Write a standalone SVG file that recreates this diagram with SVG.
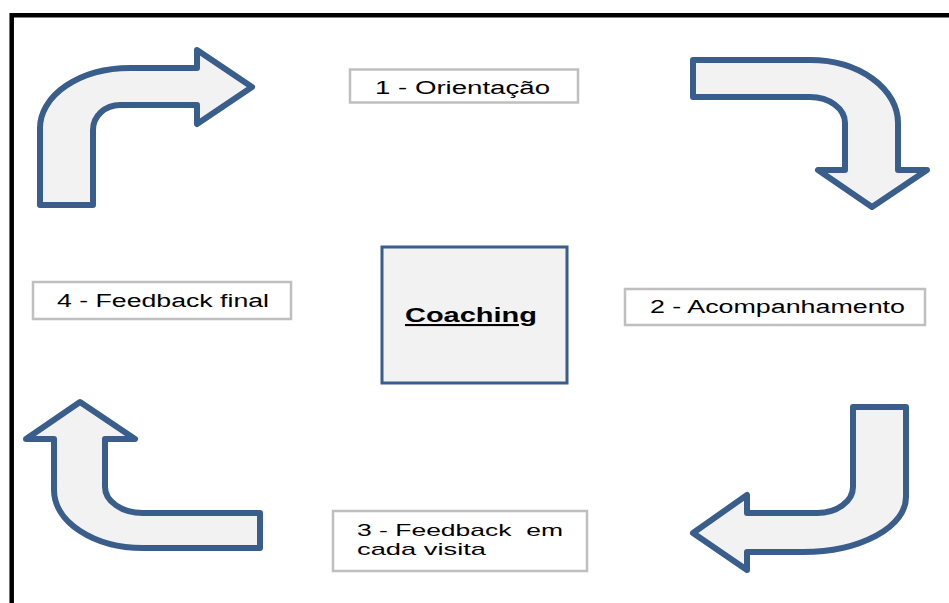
<svg xmlns="http://www.w3.org/2000/svg" width="949" height="603" viewBox="0 0 949 603">
  <style>
    .arrow { fill: #F2F2F2; stroke: #3A5E8C; stroke-width: 6; stroke-linejoin: round; }
    .box { fill: #FFFFFF; stroke: #BFBFBF; stroke-width: 2.5; }
    .lbl { font-family: "Liberation Sans", Arial, sans-serif; font-size: 18px; fill: #000000; }
    .lbl2 { font-family: "Liberation Sans", Arial, sans-serif; font-size: 17px; fill: #000000; }
    .center { fill: #F2F2F2; stroke: #3A5E8C; stroke-width: 3; }
    .ctext { font-family: "Liberation Sans", Arial, sans-serif; font-size: 21px; font-weight: bold; fill: #000000; text-decoration: underline; }
  </style>
  <rect x="0" y="0" width="949" height="603" fill="#FFFFFF"/>
  <path d="M11.7,603 L11.7,15.3 L949,15.3" fill="none" stroke="#000000" stroke-width="4.5"/>

  <g id="connectors">
    <path class="arrow" d="M40,205 L40,128 A90,60 0 0 1 130,68 L197,68 L197,50 L252,87 L197,124 L197,105 L120,105 A27,25 0 0 0 93,130 L93,205 Z"/>
    <path class="arrow" d="M693,60 L810,60 A88,63 0 0 1 898,123 L898,170 L927,170 L872,207 L818,170 L845,170 L845,123 A35,26 0 0 0 810,97 L693,97 Z"/>
    <path class="arrow" d="M853,407 L906,407 L906,497 A103,55 0 0 1 803,552 L747,552 L747,570 L693,533 L747,495 L747,513 L817,513 A36,26 0 0 0 853,487 Z"/>
    <path class="arrow" d="M80,402 L135,439 L105,439 L105,487 A38,26 0 0 0 143,513 L260,513 L260,548 L143,548 A89,58 0 0 1 54,490 L54,439 L26,439 Z"/>
  </g>

  <g id="node-coaching">
    <rect class="center" x="382" y="247" width="185" height="136"/>
    <text class="ctext" x="405" y="322" textLength="132" lengthAdjust="spacingAndGlyphs">Coaching</text>
  </g>

  <g id="node-orientacao">
    <rect class="box" x="350" y="69.5" width="228" height="33"/>
    <text class="lbl" x="375" y="94" textLength="175" lengthAdjust="spacingAndGlyphs">1 - Orientação</text>
  </g>

  <g id="node-acompanhamento">
    <rect class="box" x="625" y="289" width="300" height="36"/>
    <text class="lbl" x="650" y="313" textLength="255" lengthAdjust="spacingAndGlyphs">2 - Acompanhamento</text>
  </g>

  <g id="node-feedback-visita">
    <rect class="box" x="333" y="511" width="254" height="60"/>
    <text class="lbl2" x="357" y="535.5" textLength="206" lengthAdjust="spacingAndGlyphs" xml:space="preserve">3 - Feedback  em</text>
    <text class="lbl2" x="357" y="555" textLength="129" lengthAdjust="spacingAndGlyphs">cada visita</text>
  </g>

  <g id="node-feedback-final">
    <rect class="box" x="33" y="282" width="258" height="37"/>
    <text class="lbl" x="57" y="307" textLength="212" lengthAdjust="spacingAndGlyphs">4 - Feedback final</text>
  </g>
</svg>
